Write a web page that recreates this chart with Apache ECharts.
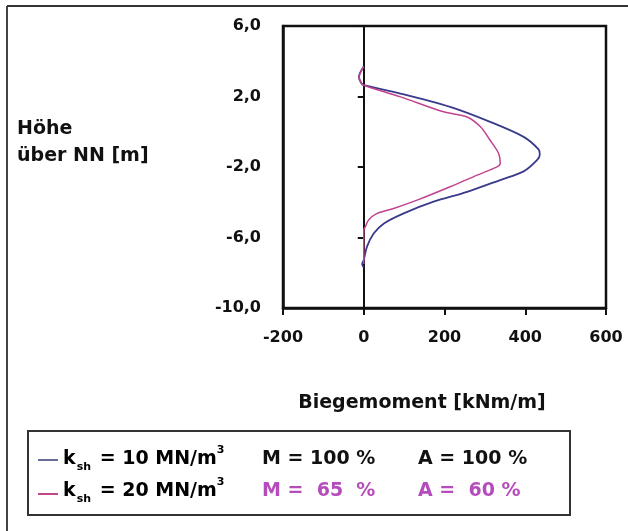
<!DOCTYPE html>
<html>
<head>
<meta charset="utf-8">
<script src="https://cdn.jsdelivr.net/npm/echarts@6/dist/echarts.min.js"></script>
<style>
  html, body { margin: 0; padding: 0; background: #fff; }
  #con { width: 628px; height: 531px; }
</style>
</head>
<body>
<div id="con"></div>
<script>
// Biegemoment [kNm/m] over Höhe [m]
var blueMoment = [0, -12, -6, 0, 91, 214, 313, 396, 433, 436, 429, 396, 338, 256, 173, 99, 50, 25, 8, 0, -4, 0];
var blueHeight = [3.7, 3.1, 2.75, 2.64, 2.17, 1.41, 0.56, -0.29, -1.0, -1.3, -1.61, -2.25, -2.74, -3.41, -3.97, -4.63, -5.2, -5.76, -6.52, -7.27, -7.5, -7.7];
var pinkMoment = [0, -12, -6, 0, 91, 198, 256, 289, 313, 334, 338, 330, 281, 214, 132, 74, 33, 12, 4, 0, 0];
var pinkHeight = [3.7, 3.1, 2.75, 2.64, 1.98, 1.13, 0.84, 0.28, -0.48, -1.23, -1.8, -1.99, -2.46, -3.12, -3.88, -4.35, -4.63, -5.01, -5.39, -5.57, -7.5];

var xTicks = [-200, 0, 200, 400, 600];
var yTicks = [-10, -6, -2, 2, 6];

var blueColor = '#3a3a8c';
var pinkColor = '#c0448e';
var magentaText = '#b54cbc';
var font = 'DejaVu Sans';

var pairs = function(xs, ys) {
    var out = [];
    for (var i = 0; i < xs.length; i++) {
        out.push([xs[i], ys[i]]);
    }
    return out;
};

var myChart = echarts.init(document.getElementById('con'));

var legendRich = {
    t: { fontSize: 19, fontWeight: 'bold', fontFamily: font, color: '#111' },
    sub: { fontSize: 11, fontWeight: 'bold', fontFamily: font, color: '#111', verticalAlign: 'bottom', padding: [0, 2, 0, 1] },
    sup: { fontSize: 11, fontWeight: 'bold', fontFamily: font, color: '#111', verticalAlign: 'top' }
};

var option = {
    animation: false,
    textStyle: { fontFamily: font, fontWeight: 'bold' },
    grid: {
        left: 283, right: 22, top: 26, bottom: 223,
        show: true, borderColor: '#111', borderWidth: 2.5
    },
    xAxis: {
        type: 'value',
        min: xTicks[0], max: xTicks[xTicks.length - 1], interval: 200,
        axisLine: { onZero: false, lineStyle: { color: '#111', width: 2.5 } },
        axisTick: { show: true, length: 7, lineStyle: { color: '#111', width: 2 } },
        axisLabel: { margin: 22, fontSize: 16, fontWeight: 'bold', color: '#111', fontFamily: font },
        splitLine: { show: false }
    },
    yAxis: [
        {
            type: 'value',
            min: yTicks[0], max: yTicks[yTicks.length - 1], interval: 4,
            axisLine: { show: true, onZero: false, lineStyle: { color: '#111', width: 2.5 } },
            axisTick: { show: false },
            axisLabel: {
                margin: 22, fontSize: 16, fontWeight: 'bold', color: '#111', fontFamily: font,
                formatter: function(v) { return v.toFixed(1).replace('.', ','); }
            },
            splitLine: { show: false }
        },
        {
            type: 'value',
            min: yTicks[0], max: yTicks[yTicks.length - 1], interval: 4,
            position: 'left',
            axisLine: { show: true, onZero: true, lineStyle: { color: '#111', width: 2 } },
            axisTick: { show: true, length: 6, lineStyle: { color: '#111', width: 2 } },
            axisLabel: { show: false },
            splitLine: { show: false }
        }
    ],
    series: [
        {
            type: 'line',
            name: 'k10',
            data: pairs(blueMoment, blueHeight),
            showSymbol: false,
            symbol: 'none',
            smooth: 0.3,
            lineStyle: { color: blueColor, width: 1.8 },
            z: 3
        },
        {
            type: 'line',
            name: 'k20',
            data: pairs(pinkMoment, pinkHeight),
            showSymbol: false,
            symbol: 'none',
            smooth: 0.3,
            lineStyle: { color: pinkColor, width: 1.5 },
            z: 4
        }
    ],
    graphic: [
        // outer frame (left and top)
        { type: 'line', shape: { x1: 7, y1: 6, x2: 7, y2: 531 }, style: { stroke: '#444', lineWidth: 2 } },
        { type: 'line', shape: { x1: 7, y1: 6, x2: 628, y2: 6 }, style: { stroke: '#333', lineWidth: 2 } },
        // axis titles
        { type: 'text', left: 17, top: 120, style: { text: 'Höhe', font: 'bold 19px "DejaVu Sans"', fill: '#111' } },
        { type: 'text', left: 17, top: 147, style: { text: 'über NN [m]', font: 'bold 19px "DejaVu Sans"', fill: '#111' } },
        { type: 'text', x: 422, y: 403, style: { text: 'Biegemoment [kNm/m]', font: 'bold 19px "DejaVu Sans"', fill: '#111', align: 'center', verticalAlign: 'middle' } },
        // legend box
        { type: 'rect', shape: { x: 28, y: 431, width: 542, height: 84 }, style: { fill: '#fff', stroke: '#333', lineWidth: 2 } },
        { type: 'line', shape: { x1: 38, y1: 460, x2: 58, y2: 460 }, style: { stroke: '#6a6a9c', lineWidth: 2 } },
        { type: 'line', shape: { x1: 38, y1: 494, x2: 58, y2: 494 }, style: { stroke: pinkColor, lineWidth: 2 } },
        { type: 'text', x: 63, y: 459, style: { text: '{t|k}{sub|sh}{t| = 10 MN/m}{sup|3}', rich: legendRich, verticalAlign: 'middle', lineHeight: 28 } },
        { type: 'text', x: 63, y: 491, style: { text: '{t|k}{sub|sh}{t| = 20 MN/m}{sup|3}', rich: legendRich, verticalAlign: 'middle', lineHeight: 28 } },
        { type: 'text', x: 262, y: 459, style: { text: 'M = 100 %', font: 'bold 19px "DejaVu Sans"', fill: '#111', verticalAlign: 'middle' } },
        { type: 'text', x: 418, y: 459, style: { text: 'A = 100 %', font: 'bold 19px "DejaVu Sans"', fill: '#111', verticalAlign: 'middle' } },
        { type: 'text', x: 262, y: 491, style: { text: 'M =  65  %', font: 'bold 19px "DejaVu Sans"', fill: magentaText, verticalAlign: 'middle' } },
        { type: 'text', x: 418, y: 491, style: { text: 'A =  60 %', font: 'bold 19px "DejaVu Sans"', fill: magentaText, verticalAlign: 'middle' } }
    ]
};
myChart.setOption(option);
</script>
</body>
</html>
